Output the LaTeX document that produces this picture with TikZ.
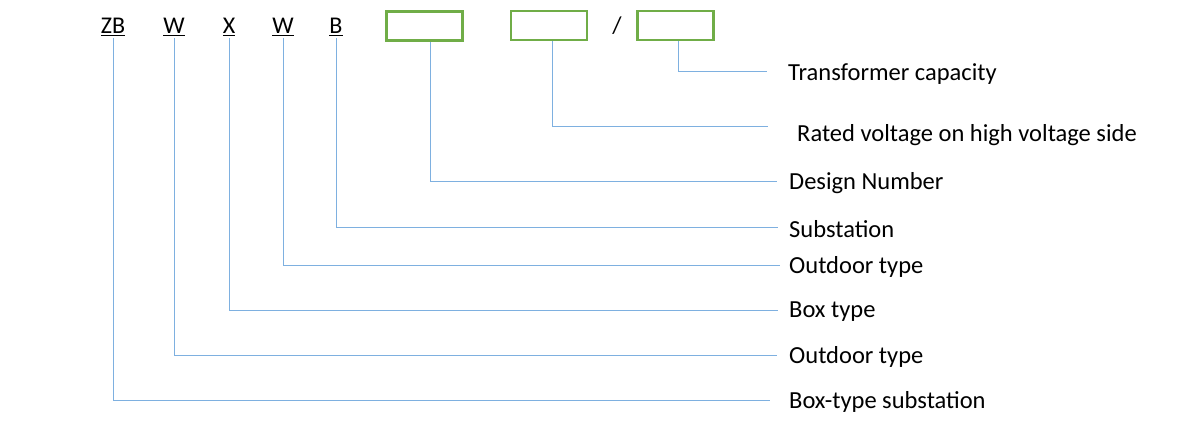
\documentclass[tikz,border=0pt]{standalone}
\usepackage{fontspec}
\setmainfont{Carlito}
\definecolor{lineblue}{HTML}{7EB0E0}
\definecolor{boxgreen}{HTML}{70AD47}
\begin{document}
\begin{tikzpicture}[x=1pt,y=-1pt,
  code/.style={inner sep=0pt,font=\fontsize{24}{28}\selectfont},
  slot/.style={draw=boxgreen,line width=2.6pt,minimum width=76pt,minimum height=29pt,inner sep=0pt},
  lbl/.style={anchor=west,inner sep=0pt,font=\fontsize{24.5}{28}\selectfont},
  conn/.style={draw=lineblue,line width=1pt}]
\useasboundingbox (0,0) rectangle (1200,428);
% code letters
\node[code] (zb) at (113,27) {\underline{ZB}};
\node[code] (w1) at (174,27) {\underline{W}};
\node[code] (x)  at (229,27) {\underline{X}};
\node[code] (w2) at (283,27) {\underline{W}};
\node[code] (b)  at (336,27) {\underline{B}};
\node[slot] (s1) at (424.5,26) {};
\node[slot] (s2) at (549,25.5) {};
\node[code] (sl) at (617,26) {/};
\node[slot] (s3) at (675.5,25.5) {};
% labels
\node[lbl] (t1) at (788,74) {Transformer capacity};
\node[lbl] (t2) at (797,135) {Rated voltage on high voltage side};
\node[lbl] (t3) at (789,183) {Design Number};
\node[lbl] (t4) at (789,229) {Substation};
\node[lbl] (t5) at (789,267) {Outdoor type};
\node[lbl] (t6) at (789,312) {Box type};
\node[lbl] (t7) at (789,357) {Outdoor type};
\node[lbl] (t8) at (789,402) {Box-type substation};
% end points of connectors
\coordinate (e1) at (767,72);
\coordinate (e2) at (768,126);
\coordinate (e3) at (777,181);
\coordinate (e4) at (778,227);
\coordinate (e5) at (780,265);
\coordinate (e6) at (778,310);
\coordinate (e7) at (777,355);
\coordinate (e8) at (770,400);
% connectors
\draw[conn] ([xshift=3pt]s3.south) |- (e1);
\draw[conn] ([xshift=3pt]s2.south) |- (e2);
\draw[conn] ([xshift=5.5pt]s1.south) |- (e3);
\draw[conn] ([yshift=-2pt]b.south) |- (e4);
\draw[conn] ([yshift=-2pt]w2.south) |- (e5);
\draw[conn] ([yshift=-2pt]x.south) |- (e6);
\draw[conn] ([yshift=-2pt]w1.south) |- (e7);
\draw[conn] ([yshift=-2pt]zb.south) |- (e8);
\end{tikzpicture}
\end{document}
